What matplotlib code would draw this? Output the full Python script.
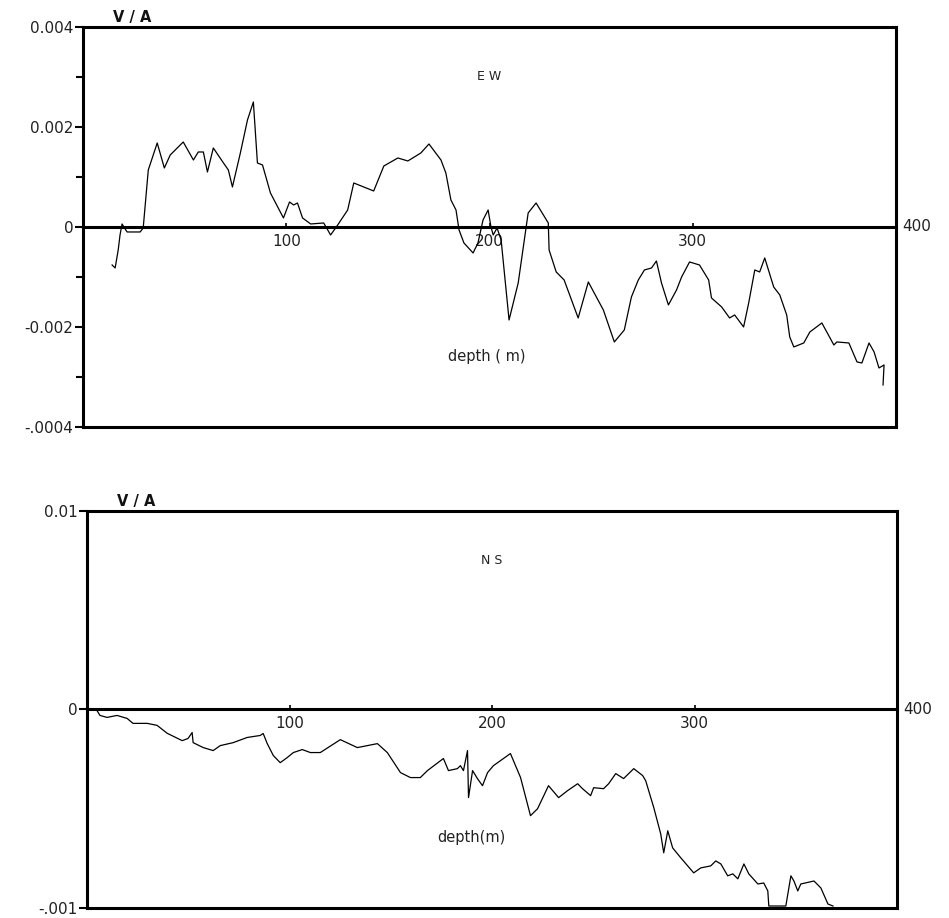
import matplotlib
matplotlib.use('Agg')
import matplotlib.pyplot as plt

# EW component: depth (m) and V/A
ew_depth = [14.3, 15.8, 17.3, 18.2, 19.2, 20.7, 21.7, 28.1, 29.6, 32.1, 36.5, 40.0, 42.9,
            49.3, 54.3, 56.7, 59.2, 61.2, 64.1, 69.1, 71.5, 73.5, 77.4, 80.9, 83.8, 85.8,
            88.3, 92.2, 98.6, 101.6, 103.6, 105.5, 108.0, 112.0, 118.4, 121.8, 125.3, 130.2,
            133.2, 143.0, 148.0, 154.9, 159.8, 166.2, 170.2, 176.1, 178.5, 181.0, 183.5,
            185.0, 187.4, 191.9, 194.3, 196.8, 199.3, 200.7, 201.8, 203.7, 205.7, 209.6,
            214.1, 219.0, 222.9, 228.9, 229.3, 232.8, 236.7, 243.6, 248.6, 251.5, 256.0,
            261.4, 266.3, 269.8, 273.2, 276.2, 279.7, 282.1, 284.6, 288.0, 292.0, 294.5,
            298.4, 303.3, 307.8, 309.2, 314.2, 318.1, 320.6, 325.0, 327.5, 330.5, 332.9,
            335.4, 339.8, 342.8, 346.2, 347.7, 349.7, 354.6, 357.6, 363.5, 369.4, 370.9,
            376.8, 380.8, 383.2, 386.7, 389.2, 391.6, 394.1, 393.6]
ew_value = [-0.00076, -0.00082, -0.00046, -0.00016, 0.00006, -0.00004, -0.0001, -0.0001,
            -0.00002, 0.00114, 0.00168, 0.00118, 0.00144, 0.0017, 0.00134, 0.0015, 0.0015,
            0.0011, 0.00158, 0.00128, 0.00114, 0.0008, 0.00148, 0.00214, 0.0025, 0.00128,
            0.00124, 0.00068, 0.00018, 0.0005, 0.00044, 0.00048, 0.00018, 0.00006, 0.00008,
            -0.00016, 0.00004, 0.00034, 0.00088, 0.00072, 0.00122, 0.00138, 0.00132,
            0.00148, 0.00166, 0.00134, 0.00108, 0.00054, 0.00034, -0.00006, -0.00032,
            -0.00052, -0.00032, 0.00014, 0.00034, 0.0, -0.00016, -0.00002, -0.00026,
            -0.00186, -0.00112, 0.00028, 0.00048, 0.00008, -0.00046, -0.0009, -0.00106,
            -0.00182, -0.0011, -0.00132, -0.00166, -0.0023, -0.00206, -0.0014, -0.00106,
            -0.00086, -0.00082, -0.00068, -0.00112, -0.00156, -0.00126, -0.001, -0.0007,
            -0.00076, -0.00106, -0.00142, -0.0016, -0.00182, -0.00176, -0.002, -0.00152,
            -0.00086, -0.0009, -0.00062, -0.0012, -0.00136, -0.00176, -0.0022, -0.0024,
            -0.00232, -0.0021, -0.00192, -0.00236, -0.0023, -0.00232, -0.0027, -0.00272,
            -0.00232, -0.0025, -0.00282, -0.00276, -0.00316]

# NS component
ns_depth = [4.9, 6.4, 9.9, 14.8, 19.8, 22.7, 29.7, 34.6, 39.6, 47.0, 49.9, 51.9, 52.4, 57.4,
            62.3, 65.8, 72.2, 79.1, 85.5, 87.0, 89.0, 92.0, 95.4, 98.9, 101.9, 106.3, 110.3,
            115.2, 125.1, 133.5, 143.4, 148.3, 154.8, 159.7, 164.6, 168.1, 176.0, 178.5,
            182.9, 184.4, 185.9, 187.9, 188.4, 190.4, 192.8, 195.3, 197.8, 200.7, 209.1,
            214.1, 219.0, 222.5, 227.9, 232.9, 237.3, 242.3, 244.7, 248.7, 250.2, 255.1,
            257.6, 261.1, 265.0, 270.0, 274.4, 275.9, 279.9, 283.3, 284.8, 286.8, 289.2,
            293.2, 299.6, 303.1, 308.0, 310.5, 313.0, 316.4, 318.9, 321.4, 324.4, 326.8,
            331.3, 334.2, 336.2, 336.7, 339.2, 345.1, 347.6, 349.1, 351.0, 352.5, 359.0,
            362.4, 365.9, 368.4]
ns_value = [-0.00005, -0.0003, -0.0004, -0.0003, -0.00045, -0.0007, -0.0007, -0.0008,
            -0.0012, -0.00157, -0.00146, -0.00116, -0.00167, -0.00192, -0.00207, -0.00182,
            -0.00167, -0.00141, -0.00131, -0.00121, -0.00172, -0.00232, -0.00268, -0.00242,
            -0.00217, -0.00202, -0.00217, -0.00217, -0.00152, -0.00192, -0.00172, -0.00217,
            -0.00318, -0.00343, -0.00343, -0.00308, -0.00247, -0.00308, -0.00298, -0.00283,
            -0.00308, -0.00207, -0.00444, -0.00308, -0.00348, -0.00384, -0.00318, -0.00283,
            -0.00222, -0.00343, -0.00535, -0.005, -0.00384, -0.00444, -0.00409, -0.00374,
            -0.00399, -0.00434, -0.00394, -0.00399, -0.00374, -0.00323, -0.00348, -0.00298,
            -0.00333, -0.00359, -0.00495, -0.00626, -0.00722, -0.00611, -0.00697, -0.00747,
            -0.00823, -0.00798, -0.00788, -0.00763, -0.00778, -0.00838, -0.00828, -0.00853,
            -0.00778, -0.00828, -0.00879, -0.00874, -0.00914, -0.0099, -0.0099, -0.0099,
            -0.00838, -0.00864, -0.00914, -0.00879, -0.00864, -0.00899, -0.0098, -0.0099]

x_ticks = [100, 200, 300]
ew_yticks = [0.004, 0.002, 0, -0.002, -0.004]
ew_ylabels = ['0.004', '0.002', '0', '-0.002', '-.0004']
ns_yticks = [0.01, 0, -0.01]
ns_ylabels = ['0.01', '0', '-.001']

fig = plt.figure(figsize=(9.49, 9.18), dpi=100)
ax1 = fig.add_axes([0.0875, 0.5349, 0.8567, 0.4357])
ax2 = fig.add_axes([0.0917, 0.0109, 0.8535, 0.4325])

txt = '#222222'


def setup(ax, yticks, ylabels, minor, title, xlab, xlab_x):
    ax.set_xlim(0, 400)
    ax.set_ylim(yticks[-1], yticks[0])
    for s in ax.spines.values():
        s.set_linewidth(2.2)
    # x axis runs along the zero line
    ax.spines['bottom'].set_position(('data', 0))
    ax.axhline(yticks[-1], color='black', lw=2.2, clip_on=False)
    ax.set_xticks(x_ticks)
    ax.set_xticklabels([str(t) for t in x_ticks])
    ax.tick_params(axis='x', direction='in', length=3, width=1.2, pad=5,
                   labelsize=11, labelcolor=txt)
    ax.set_yticks(yticks)
    ax.set_yticklabels(ylabels)
    if minor:
        ax.set_yticks(minor, minor=True)
    ax.tick_params(axis='y', which='major', direction='out', length=6, width=1.5,
                   pad=1, labelsize=11, labelcolor=txt)
    ax.tick_params(axis='y', which='minor', direction='out', length=5, width=1.5)
    ax.text(0.5, 0.875, title, transform=ax.transAxes, ha='center', va='center',
            fontsize=9, color=txt)
    ax.text(xlab_x, 0.177, xlab, transform=ax.transAxes, ha='center', va='center',
            fontsize=10.5, color=txt)
    ax.text(0.037, 1.004, 'V / A', transform=ax.transAxes, ha='left', va='bottom',
            fontsize=10.5, fontweight='bold', color='#111111')
    ax.text(1.008, 0.0, '400', transform=ax.get_yaxis_transform(), ha='left',
            va='center', fontsize=11, color=txt)


setup(ax1, ew_yticks, ew_ylabels, [0.003, 0.001, -0.001, -0.003], 'E W', 'depth ( m)', 0.497)
setup(ax2, ns_yticks, ns_ylabels, None, 'N S', 'depth(m)', 0.475)

ax1.plot(ew_depth, ew_value, color='black', lw=0.9)
ax2.plot(ns_depth, ns_value, color='black', lw=0.9)

fig.savefig('out.png', dpi=100)
